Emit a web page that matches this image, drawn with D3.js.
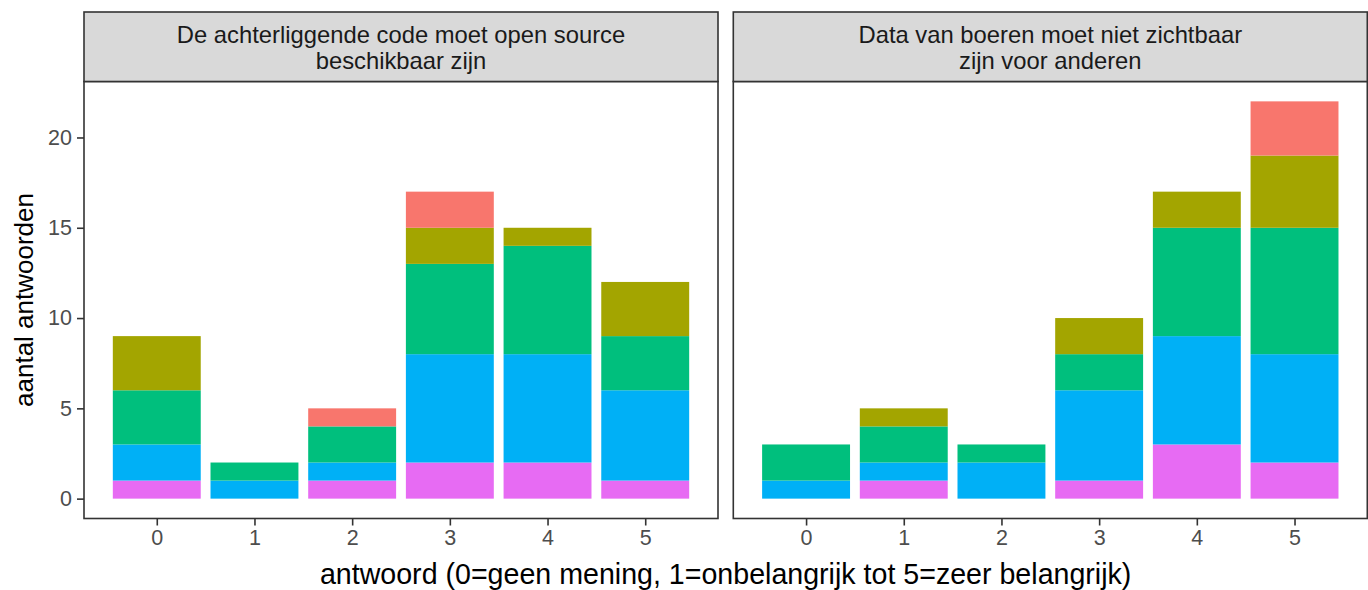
<!DOCTYPE html>
<html>
<head>
<meta charset="utf-8">
<script src="https://cdn.jsdelivr.net/npm/d3@7"></script>
<style>
  html, body { margin: 0; padding: 0; background: #fff; }
  svg { display: block; font-family: "Liberation Sans", Arial, Helvetica, sans-serif; }
</style>
</head>
<body>
<svg id="chart" width="1368" height="590"></svg>
<script>
// ---- data ----
const answers = [0, 1, 2, 3, 4, 5];
const facetTitles = [
  ["De achterliggende code moet open source", "beschikbaar zijn"],
  ["Data van boeren moet niet zichtbaar", "zijn voor anderen"]
];
// groups, stacked bottom -> top
const groups = ["pink", "blue", "green", "olive", "red"];
const groupColors = ["#E76BF3", "#00B0F6", "#00BF7D", "#A3A500", "#F8766D"];
// panel 1 values per answer 0..5
const p1Pink  = [1, 0, 1, 2, 2, 1];
const p1Blue  = [2, 1, 1, 6, 6, 5];
const p1Green = [3, 1, 2, 5, 6, 3];
const p1Olive = [3, 0, 0, 2, 1, 3];
const p1Red   = [0, 0, 1, 2, 0, 0];
// panel 2
const p2Pink  = [0, 1, 0, 1, 3, 2];
const p2Blue  = [1, 1, 2, 5, 6, 6];
const p2Green = [2, 2, 1, 2, 6, 7];
const p2Olive = [0, 1, 0, 2, 2, 4];
const p2Red   = [0, 0, 0, 0, 0, 3];
const yTicks = [0, 5, 10, 15, 20];
const xTitle = "antwoord (0=geen mening, 1=onbelangrijk tot 5=zeer belangrijk)";
const yTitle = "aantal antwoorden";

const panelsData = [
  [p1Pink, p1Blue, p1Green, p1Olive, p1Red],
  [p2Pink, p2Blue, p2Green, p2Olive, p2Red]
];

// ---- layout ----
const svg = d3.select("#chart");
const panelX = [84, 733.3];
const panelW = 634;
const stripTop = 12, stripBottom = 81.5, panelBottom = 518.5;
const barW = 0.9;
const tickFont = 21.5;

const yMax = 22;
const y = d3.scaleLinear()
  .domain([-yMax * 0.05, yMax * 1.05])
  .range([panelBottom, stripBottom]);

const x0 = d3.scaleLinear()
  .domain([-0.45 - 5.9 * 0.05, 5.45 + 5.9 * 0.05])
  .range([0, panelW]);

panelsData.forEach((series, pi) => {
  const g = svg.append("g").attr("transform", `translate(${panelX[pi]},0)`);
  const rows = answers.map((a, i) => {
    const r = { answer: a };
    groups.forEach((gname, gi) => r[gname] = series[gi][i]);
    return r;
  });
  const stacked = d3.stack().keys(groups)(rows);
  stacked.forEach((layer, li) => {
    g.append("g").selectAll("rect")
      .data(layer.filter(d => d[1] - d[0] > 0))
      .join("rect")
      .attr("x", d => x0(d.data.answer - barW / 2))
      .attr("width", d => x0(d.data.answer + barW / 2) - x0(d.data.answer - barW / 2))
      .attr("y", d => y(d[1]))
      .attr("height", d => y(d[0]) - y(d[1]))
      .attr("fill", groupColors[li]);
  });
  // panel border
  g.append("rect")
    .attr("x", 0).attr("y", stripBottom)
    .attr("width", panelW).attr("height", panelBottom - stripBottom)
    .attr("fill", "none").attr("stroke", "#333333").attr("stroke-width", 1.6);
  // strip
  g.append("rect")
    .attr("x", 0).attr("y", stripTop)
    .attr("width", panelW).attr("height", stripBottom - stripTop)
    .attr("fill", "#D9D9D9").attr("stroke", "#333333").attr("stroke-width", 1.6);
  g.append("text")
    .attr("x", panelW / 2).attr("y", 42.5)
    .attr("text-anchor", "middle")
    .attr("font-size", 23.8).attr("fill", "#1A1A1A")
    .selectAll("tspan").data(facetTitles[pi]).join("tspan")
    .attr("x", panelW / 2).attr("dy", (d, i) => i === 0 ? 0 : 26)
    .text(d => d);
  // x axis
  const xAxis = d3.axisBottom(x0).tickValues(answers).tickFormat(d3.format("d"))
    .tickSize(7).tickPadding(4);
  const xa = g.append("g").attr("transform", `translate(0,${panelBottom})`).call(xAxis);
  xa.select(".domain").remove();
  xa.selectAll(".tick line").attr("stroke", "#333333").attr("stroke-width", 1.6);
  xa.selectAll(".tick text").attr("fill", "#4D4D4D").attr("font-size", tickFont)
    .attr("font-family", "Liberation Sans, Arial, sans-serif");
  // y axis (left panel only)
  if (pi === 0) {
    const yAxis = d3.axisLeft(y).tickValues(yTicks).tickSize(7).tickPadding(5);
    const ya = g.append("g").call(yAxis);
    ya.select(".domain").remove();
    ya.selectAll(".tick line").attr("stroke", "#333333").attr("stroke-width", 1.6);
    ya.selectAll(".tick text").attr("fill", "#4D4D4D").attr("font-size", tickFont)
      .attr("font-family", "Liberation Sans, Arial, sans-serif");
  }
});

// axis titles
svg.append("text")
  .attr("x", (panelX[0] + panelX[1] + panelW) / 2).attr("y", 583.5)
  .attr("text-anchor", "middle").attr("font-size", 28.6).attr("fill", "#000")
  .text(xTitle);
svg.append("text")
  .attr("transform", `translate(33,${(stripBottom + panelBottom) / 2}) rotate(-90)`)
  .attr("text-anchor", "middle").attr("font-size", 26).attr("fill", "#000")
  .text(yTitle);
</script>
</body>
</html>
